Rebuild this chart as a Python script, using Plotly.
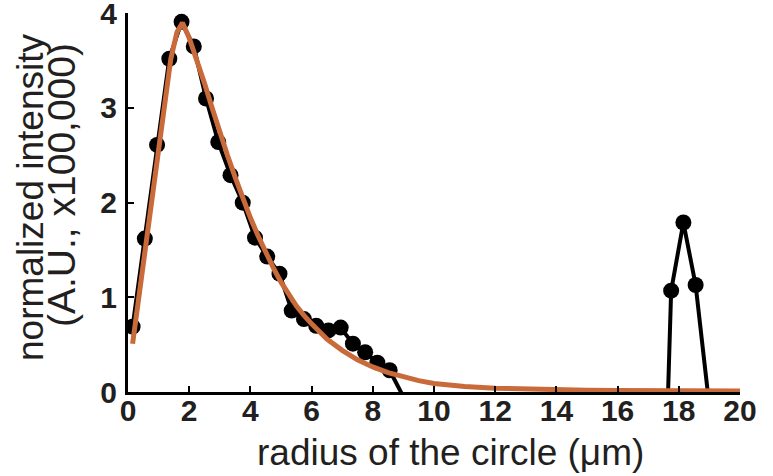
import plotly.graph_objects as go

# measured profile (radius in µm, intensity in A.U. x100,000)
radius = [0.15, 0.55, 0.95, 1.35, 1.75, 2.15, 2.55, 2.95, 3.35, 3.75,
          4.15, 4.55, 4.95, 5.35, 5.75, 6.15, 6.55, 6.95, 7.35, 7.75,
          8.15, 8.55, 8.95, 9.35, 9.75, 10.15, 10.55, 10.95, 11.35, 11.75,
          12.15, 12.55, 12.95, 13.35, 13.75, 14.15, 14.55, 14.95, 15.35, 15.75,
          16.15, 16.55, 16.95, 17.35, 17.75, 18.15, 18.55, 18.95, 19.35, 19.75]
intensity = [0.69, 1.62, 2.61, 3.52, 3.91, 3.65, 3.10, 2.64, 2.29, 2.00,
             1.63, 1.43, 1.25, 0.86, 0.77, 0.70, 0.65, 0.68, 0.51, 0.42,
             0.31, 0.23, -0.02, -0.4, -0.7, -0.6, -0.9, -1.1, -1.0, -1.3,
             -1.2, -1.5, -1.4, -1.7, -1.6, -1.9, -2.1, -2.0, -2.3, -2.5,
             -2.4, -2.7, -2.9, -3.2, 1.07, 1.79, 1.13, -0.01, -0.8, -1.5]

# fitted curve
fit_x = [0.15, 0.4, 0.6, 0.8, 1.0, 1.2, 1.4, 1.6, 1.78, 2.0, 2.25, 2.5, 2.75,
         3.0, 3.25, 3.5, 3.75, 4.0, 4.25, 4.5, 4.75, 5.0, 5.25, 5.5, 5.75,
         6.0, 6.5, 7.0, 7.5, 8.0, 8.5, 9.0, 9.5, 10.0, 11.0, 12.0, 13.0,
         14.0, 15.0, 16.0, 17.0, 18.0, 19.0, 20.0]
fit_y = [0.51, 1.13, 1.62, 2.12, 2.6, 3.08, 3.52, 3.8, 3.9, 3.74, 3.51, 3.26, 3.0,
         2.74, 2.5, 2.27, 2.05, 1.84, 1.65, 1.47, 1.31, 1.16, 1.03, 0.91, 0.81,
         0.72, 0.56, 0.44, 0.34, 0.265, 0.205, 0.16, 0.12, 0.09, 0.058, 0.04, 0.03,
         0.023, 0.018, 0.015, 0.013, 0.011, 0.01, 0.01]

x_ticks = [0, 2, 4, 6, 8, 10, 12, 14, 16, 18, 20]
y_ticks = [0, 1, 2, 3, 4]

x_title = "radius of the circle (μm)"
y_title_1 = "normalized intensity"
y_title_2 = "(A.U., x100,000)"

mx = [x for x, y in zip(radius, intensity) if y >= 0]
my = [y for y in intensity if y >= 0]

FONT = "Liberation Sans, Arial, sans-serif"
TXT = "#231f20"

fig = go.Figure()
fig.add_trace(go.Scatter(x=radius, y=intensity, mode="lines",
                         line=dict(color="black", width=4), showlegend=False))
fig.add_trace(go.Scatter(x=mx, y=my, mode="markers",
                         marker=dict(color="black", size=16), showlegend=False))
fig.add_trace(go.Scatter(x=fit_x, y=fit_y, mode="lines",
                         line=dict(color="#C96A3A", width=5), showlegend=False))

tickfont = dict(family=FONT, size=30, color=TXT)
fig.update_layout(
    width=773, height=476,
    margin=dict(l=128, r=33, t=13, b=84),
    plot_bgcolor="white", paper_bgcolor="white",
    font=dict(family=FONT, color=TXT),
)
fig.update_xaxes(range=[0, 20], tickvals=x_ticks, ticktext=[f"<b>{t}</b>" for t in x_ticks],
                 tickfont=tickfont, ticks="inside", ticklen=6, tickwidth=2,
                 tickcolor="black", showline=True, linecolor="black", linewidth=3,
                 showgrid=False, zeroline=False, automargin=False,
                 ticklabeloverflow="allow", ticklabelstandoff=-10)
fig.update_yaxes(range=[0, 4.003], tickvals=y_ticks, ticktext=[f"<b>{t}</b>" for t in y_ticks],
                 tickfont=tickfont, ticks="inside", ticklen=6, tickwidth=2,
                 tickcolor="black", showline=True, linecolor="black", linewidth=3,
                 showgrid=False, zeroline=False, automargin=False,
                 ticklabeloverflow="allow", ticklabelstandoff=2)

# axis titles as annotations (paper coords relative to plot area 128..740 x 13..392 px)
fig.add_annotation(text=x_title, xref="paper", yref="paper",
                   x=(450 - 128) / 612, y=(392 - 452) / 379,
                   xanchor="center", yanchor="middle", showarrow=False,
                   font=dict(family=FONT, size=37, color=TXT))
fig.add_annotation(text=y_title_1, xref="paper", yref="paper",
                   x=(30 - 128) / 612, y=(392 - 198) / 379, textangle=-90,
                   xanchor="center", yanchor="middle", showarrow=False,
                   font=dict(family=FONT, size=37, color=TXT))
fig.add_annotation(text=y_title_2, xref="paper", yref="paper",
                   x=(62 - 128) / 612, y=(392 - 185) / 379, textangle=-90,
                   xanchor="center", yanchor="middle", showarrow=False,
                   font=dict(family=FONT, size=39, color=TXT))

fig.write_html("out.html", config={"displayModeBar": False},
               post_script="document.body.style.margin='0px';document.body.style.overflow='hidden';")
